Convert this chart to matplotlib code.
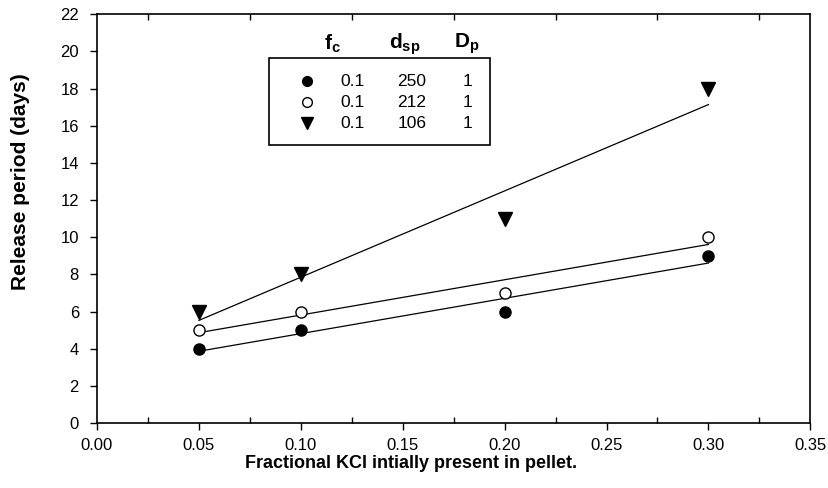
import numpy as np
import matplotlib.pyplot as plt
from matplotlib.ticker import MultipleLocator

plt.rcParams["font.family"] = ["Liberation Sans", "DejaVu Sans"]
plt.rcParams["mathtext.fontset"] = "custom"
plt.rcParams["mathtext.rm"] = "Liberation Sans"
plt.rcParams["mathtext.bf"] = "Liberation Sans:bold"

kcl_frac = [0.05, 0.10, 0.20, 0.30]
release_250 = [4, 5, 6, 9]
release_212 = [5, 6, 7, 10]
release_106 = [6, 8, 11, 18]

fc_vals = ["0.1", "0.1", "0.1"]
dsp_vals = ["250", "212", "106"]
dp_vals = ["1", "1", "1"]

fig = plt.figure(figsize=(8.29, 4.88), dpi=100)
ax = fig.add_axes([0.117, 0.133, 0.8605, 0.838])

x = np.array(kcl_frac)
series = [
    (release_250, dict(marker="o", mfc="black", mec="black", ms=8)),
    (release_212, dict(marker="o", mfc="white", mec="black", ms=8, mew=1.0)),
    (release_106, dict(marker="v", mfc="black", mec="black", ms=10)),
]
for y, style in series:
    ax.plot(x, y, ls="none", zorder=3, **style)
    k, b = np.polyfit(x, y, 1)
    ax.plot(x[[0, -1]], k * x[[0, -1]] + b, color="black", lw=0.9, zorder=2)

ax.set_xlim(0, 0.35)
ax.set_ylim(0, 22)
ax.xaxis.set_major_locator(MultipleLocator(0.05))
ax.xaxis.set_minor_locator(MultipleLocator(0.025))
ax.yaxis.set_major_locator(MultipleLocator(2))
ax.xaxis.set_major_formatter(plt.FuncFormatter(lambda v, p: f"{v:.2f}"))

ax.tick_params(axis="x", which="major", direction="out", length=5, width=1,
               labelsize=12, pad=6)
ax.tick_params(axis="x", which="minor", direction="in", length=4, width=1,
               top=True, bottom=True)
ax.tick_params(axis="y", which="major", direction="out", length=5, width=1,
               labelsize=12, pad=8)
for s in ax.spines.values():
    s.set_linewidth(1.2)

ax.set_xlabel("Fractional KCl intially present in pellet.", fontsize=13,
              fontweight="bold", va="center")
ax.xaxis.set_label_coords(0.44, -0.098)
ax.set_ylabel("Release period (days)", fontsize=15, fontweight="bold",
              va="center")
ax.yaxis.set_label_coords(-0.107, 0.59)

# legend table drawn by hand
ax.add_patch(plt.Rectangle((0.0844, 14.94), 0.1086, 4.69, fill=False,
                           lw=1.2, color="black", zorder=4))
hdr_y = 20.4
ax.text(0.1153, hdr_y, r"$\mathbf{f_c}$", ha="center", va="center", fontsize=15)
ax.text(0.1511, hdr_y, r"$\mathbf{d_{sp}}$", ha="center", va="center", fontsize=15)
ax.text(0.1816, hdr_y, r"$\mathbf{D_p}$", ha="center", va="center", fontsize=15)
row_y = [18.39, 17.26, 16.12]
leg_ms = [7, 7, 9]
for i, (y, style) in enumerate(series):
    ry = row_y[i]
    st = dict(style)
    st["ms"] = leg_ms[i]
    ax.plot([0.1031], [ry], ls="none", zorder=5, **st)
    ax.text(0.1256, ry, fc_vals[i], ha="center", va="center", fontsize=12.5)
    ax.text(0.1546, ry, dsp_vals[i], ha="center", va="center", fontsize=12.5)
    ax.text(0.1816, ry, dp_vals[i], ha="center", va="center", fontsize=12.5)

fig.savefig("out.png", dpi=100)
